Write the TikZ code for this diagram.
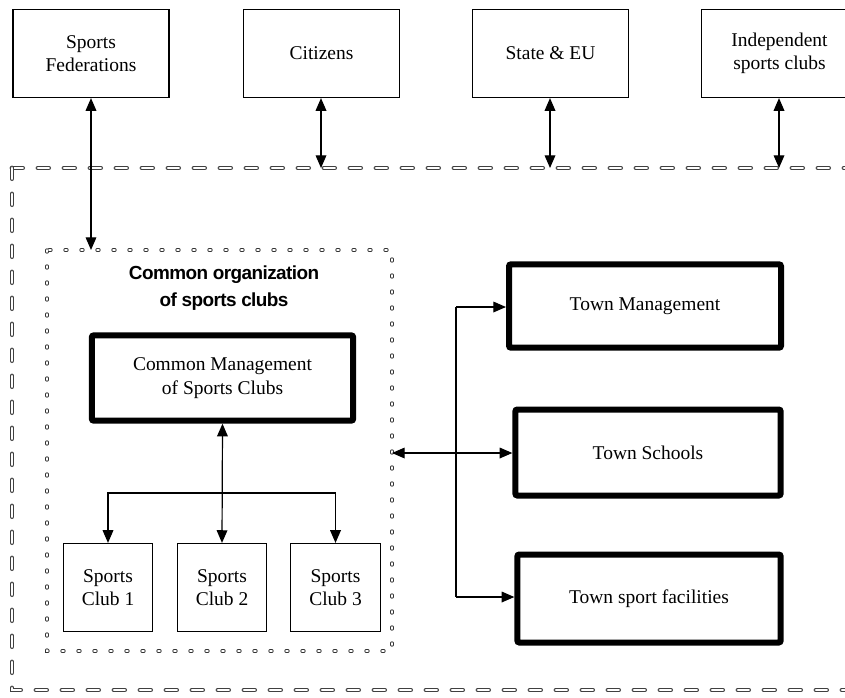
\documentclass[tikz,border=0pt]{standalone}
\usepackage{fontspec}
\setmainfont{Liberation Serif}
\newfontfamily\orgfont[LetterSpace=-3]{Liberation Sans}
\usetikzlibrary{arrows.meta}
\begin{document}
\begin{tikzpicture}[x=0.75pt,y=-0.75pt,
  box/.style={draw,line width=0.9pt,align=center,font=\fontsize{14.6}{17.5}\selectfont},
  topbox/.style={box,minimum width=117pt,minimum height=66pt},
  clubbox/.style={box,minimum width=67pt,minimum height=66pt},
  heavybox/.style={box,line width=4.5pt,rounded corners=1.5pt},
  arr/.style={line width=0.9pt,-{Triangle[length=9.5pt,width=8pt]}},
  dblarr/.style={line width=0.9pt,{Triangle[length=9.5pt,width=8pt]}-{Triangle[length=9.5pt,width=8pt]}},
  frame/.style={draw=black!75,line width=0.7pt,double=white,double distance=2.2pt,line cap=round,dash pattern=on 8pt off 11.5pt},
  dotframe/.style={draw=black!80,line width=0.55pt,double=white,double distance=1.4pt,line cap=round,dash pattern=on 1.5pt off 10.5pt}]
\useasboundingbox (0,0) rectangle (845,697);
%%%%%%%%%%%%%%%% outside partners
\node[topbox] (fed) at (91,53.5) {Sports\\Federations};
\node[topbox] (cit) at (321.5,53.5) {Citizens};
\node[topbox] (state) at (550.5,53.5) {State \& EU};
\node[topbox] (indep) at (779.5,53.5) {Independent\\sports clubs};
%%%%%%%%%%%%%%%% town frame
\draw[frame] (12,168) -- (880,168);
\draw[frame] (12,168) -- (12,690) -- (880,690);
\coordinate (citin) at (321,168);
\coordinate (statein) at (550,168);
\coordinate (indepin) at (779,168);
%%%%%%%%%%%%%%%% common organization
\draw[dotframe] (47,250) rectangle (392,651);
\coordinate (fedin) at (91,250);
\coordinate (orgout) at (392,453);
\node[align=center,font=\orgfont\bfseries\fontsize{14.2}{20}\selectfont] (orgtitle) at (224,288) {Common organization\\of sports clubs};
\node[heavybox,minimum width=196pt,minimum height=64pt] (mgmt) at (222.5,378) {Common Management\\of Sports Clubs};
\node[clubbox] (club1) at (108,587.5) {Sports\\Club 1};
\node[clubbox] (club2) at (222,587.5) {Sports\\Club 2};
\node[clubbox] (club3) at (335.5,587.5) {Sports\\Club 3};
\coordinate (bus) at (222,493);
%%%%%%%%%%%%%%%% town side
\node[heavybox,minimum width=204pt,minimum height=62.5pt] (tman) at (645,306) {Town Management};
\node[heavybox,minimum width=199pt,minimum height=64.5pt] (tsch) at (648,452.5) {Town Schools};
\node[heavybox,minimum width=197.5pt,minimum height=66pt] (tfac) at (649,598.5) {Town sport facilities};
\coordinate (jtop) at (456,307);
\coordinate (jbot) at (456,597);
%%%%%%%%%%%%%%%% connectors
\draw[dblarr] (fed.south -| fedin) -- (fedin);
\draw[dblarr] (cit.south -| citin) -- (citin);
\draw[dblarr] (state.south -| statein) -- (statein);
\draw[dblarr] (indep.south -| indepin) -- (indepin);
\draw[dblarr] (mgmt.south) -- (club2.north);
\draw[arr] (bus) -| (club1.north);
\draw[arr] (bus) -| (club3.north);
\draw[line width=0.9pt] (jtop) -- (jbot);
\draw[arr] (jtop) -- (jtop -| tman.west);
\draw[arr] (jbot) -- (jbot -| tfac.west);
\draw[dblarr] (orgout) -- (orgout -| tsch.west);
\end{tikzpicture}
\end{document}
